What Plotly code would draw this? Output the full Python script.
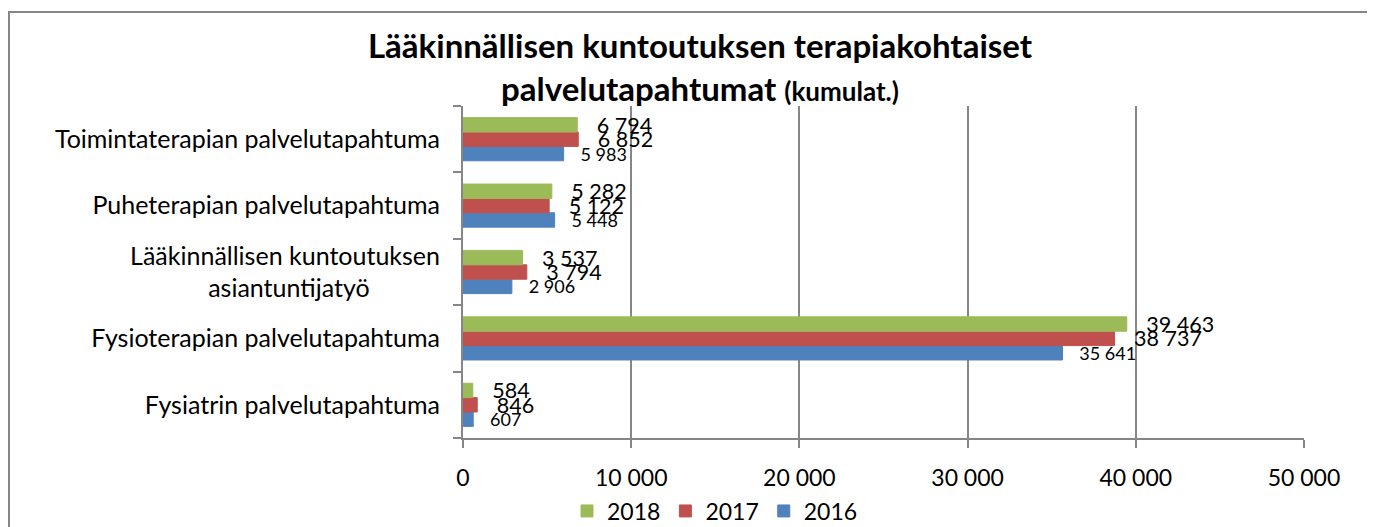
import plotly.graph_objects as go

# categories bottom -> top (plotly category axis goes upward)
categories = [
    "Fysiatrin palvelutapahtuma",
    "Fysioterapian palvelutapahtuma",
    "Lääkinnällisen kuntoutuksen asiantuntijatyö",
    "Puheterapian palvelutapahtuma",
    "Toimintaterapian palvelutapahtuma",
]
# display labels for the y axis (second line padded so it looks centered)
category_labels = [
    "Fysiatrin palvelutapahtuma",
    "Fysioterapian palvelutapahtuma",
    "Lääkinnällisen kuntoutuksen<br>asiantuntijatyö" + "\u00a0" * 11,
    "Puheterapian palvelutapahtuma",
    "Toimintaterapian palvelutapahtuma",
]

values_2016 = [607, 35641, 2906, 5448, 5983]
values_2017 = [846, 38737, 3794, 5122, 6852]
values_2018 = [584, 39463, 3537, 5282, 6794]

x_ticks = [0, 10000, 20000, 30000, 40000, 50000]

FONT = "Lato, 'Open Sans', sans-serif"
COLORS = {"2016": "#4F81BD", "2017": "#C0504D", "2018": "#9BBB59"}

series = [
    ("2016", values_2016, 18),
    ("2017", values_2017, 21.5),
    ("2018", values_2018, 21.5),
]

fig = go.Figure()
for name, vals, label_size in series:
    fig.add_trace(go.Bar(
        y=categories, x=vals,
        orientation="h",
        name=name,
        marker=dict(color=COLORS[name], line=dict(color=COLORS[name], width=1)),
        text=[f"{v:,}".replace(",", " ") for v in vals],
        texttemplate="\u00a0\u00a0\u00a0%{text}",
        textposition="outside",
        constraintext="none",
        cliponaxis=False,
        textfont=dict(family=FONT, size=label_size, color="#000000"),
    ))

# page body has an 8px margin, so the figure sits 8px right/down
W, H = 1367, 519
L, R, T, B = 455, 71, 98, 89
plot_w = W - L - R
plot_h = H - T - B

fig.update_layout(
    width=W, height=H,
    barmode="group",
    bargap=0.35,
    bargroupgap=0,
    paper_bgcolor="white",
    plot_bgcolor="white",
    font=dict(family=FONT, size=23, color="#000000"),
    margin=dict(l=L, r=R, t=T, b=B, autoexpand=False),
    separators=", ",
    title=dict(
        text="<b>Lääkinnällisen kuntoutuksen terapiakohtaiset<br>"
             "palvelutapahtumat <span style='font-size:26px'>(kumulat.)</span></b>",
        font=dict(family=FONT, size=33, color="#000000"),
        x=(700 - 8) / W, xanchor="center",
        y=1 - 50 / H, yanchor="top",
    ),
    showlegend=True,
    legend=dict(
        orientation="h",
        traceorder="reversed",
        x=(707 - L) / plot_w, xanchor="center",
        y=-(503 - (H - B)) / plot_h, yanchor="middle",
        font=dict(family=FONT, size=23),
        itemwidth=30,
    ),
    xaxis=dict(
        range=[0, 50000],
        tickvals=x_ticks,
        tickformat=",d",
        automargin=False,
        showgrid=True, gridcolor="#868686", gridwidth=2,
        showline=True, linecolor="#868686", linewidth=2,
        ticks="outside", ticklen=8, tickcolor="#868686", tickwidth=2,
        ticklabelstandoff=10,
        zeroline=False,
        tickfont=dict(family=FONT, size=23),
    ),
    yaxis=dict(
        categoryorder="array", categoryarray=categories,
        tickvals=categories, ticktext=category_labels,
        tickson="boundaries",
        automargin=False,
        showline=True, linecolor="#868686", linewidth=2,
        ticks="outside", ticklen=8, tickcolor="#868686", tickwidth=2,
        ticklabelstandoff=16,
        showgrid=False,
        tickfont=dict(family=FONT, size=25),
    ),
    shapes=[dict(
        type="rect", xref="paper", yref="paper",
        x0=(1 - L) / plot_w, x1=(1363 - L) / plot_w,
        y0=-(B + 10) / plot_h, y1=1 + (T - 4) / plot_h,
        line=dict(color="#868686", width=2),
        fillcolor="rgba(0,0,0,0)",
        layer="below",
    )],
)

fig.write_html("out.html")
